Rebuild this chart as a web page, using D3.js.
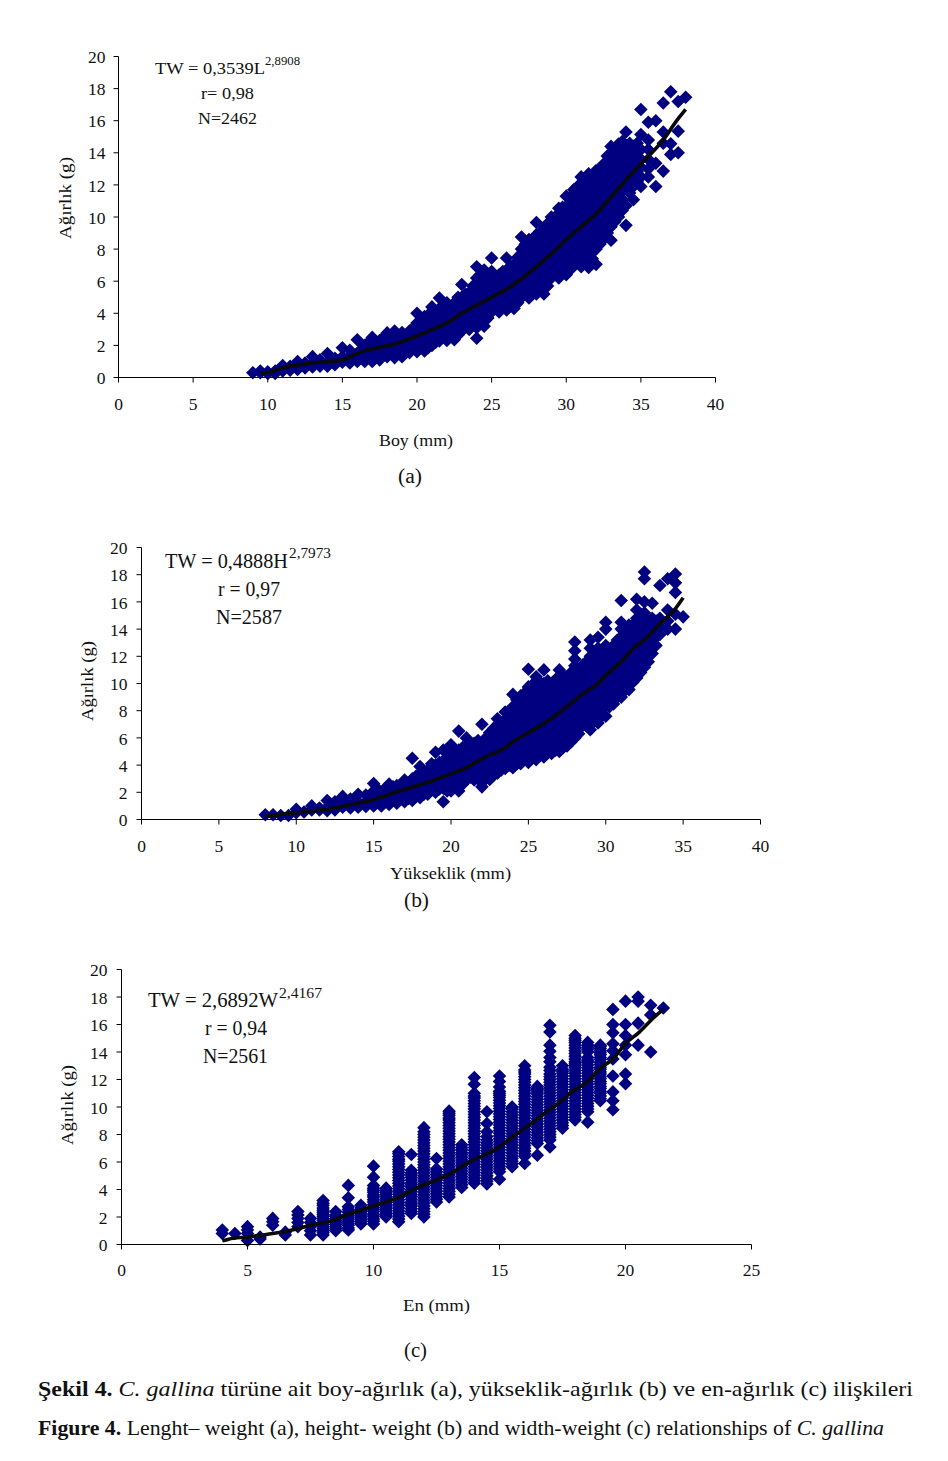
<!DOCTYPE html>
<html><head><meta charset="utf-8"><script src="https://cdn.jsdelivr.net/npm/d3@7"></script>
<style>html,body{margin:0;padding:0;background:#fff}svg{display:block}text{font-family:"Liberation Serif",serif;fill:#111}</style></head>
<body><svg id="c" width="948" height="1461"></svg>
<script>
// Panel (a) boy (length, mm) vs ağırlık (weight, g)
const boyX=[9,9.5,10,10.5,11,11.5,12,12.5,13,13.5,14,14.5,15,15.5,16,16.5,17,17.5,18,18.5,19,19.5,20,20.5,21,21.5,22,22.5,23,23.5,24,24.5,25,25.5,26,26.5,27,27.5,28,28.5,29,29.5,30,30.5,31,31.5,32,32.5,33,33.5,34,34.5,35,35.5,36,36.5,37,37.5,38];
const boyW=[[.3],[.3,.4],[.25,.35],[.25,.4],[.4,.75],[.45,.7],[.5,.75,1],[.6,.9],[.65,.9,1.3],[.7,1.1],[.7,1,1.5],[.8,1.2],[.95,1.3,1.85],[.9,1.3,1.7],[1,1.5,2.35],[1,1.5,2],[1,1.5,2,2.5],[1.1,1.6,2.3],[1.3,1.8,2.3,2.78],[1.24,1.8,2.4,2.9],[1.3,1.9,2.5,2.8],[1.55,2.1,2.6,2.9],[1.6,2.2,2.8,3.4,4],[1.65,2.2,2.8,3.3,3.8],[2,2.5,3,3.5,4,4.4],[2.28,2.8,3.3,3.8,4.3,4.95],[2.3,2.8,3.3,3.8,4.2,4.65],[2.35,2.9,3.4,3.9,4.3,4.65],[2.9,3.4,3.9,4.4,5,5.8],[3,3.5,4,4.5,5,5.3],[2.45,3.1,3.6,4.1,4.6,5.1,5.6,6.2,6.9],[3.2,3.7,4.2,4.7,5.2,5.7,6.2,6.7],[4.08,4.6,5.1,5.6,6.1,6.6,7.44],[4.08,4.6,5.1,5.6,6,6.4],[4.2,4.7,5.2,5.7,6.2,6.7,7.44],[4.3,4.8,5.3,5.8,6.3,6.7,7.05],[4.98,5.5,6,6.5,7,7.5,8,8.75],[4.95,5.5,6,6.5,7,7.5,8,8.6],[5.2,5.8,6.4,7,7.6,8.2,8.9,9.66],[5.2,5.8,6.4,7,7.6,8.2,8.8,9.3],[6.2,6.8,7.4,8,8.6,9.2,10],[6.2,6.8,7.4,8,8.6,9.2,9.9,10.55],[6.4,7,7.6,8.2,8.8,9.4,10,10.6,11.3],[6.95,7.5,8.1,8.7,9.3,9.9,10.5,11.1,11.7],[6.9,7.6,8.3,9,9.6,10.2,10.8,11.4,12,12.5],[6.85,7.7,8.4,9.1,9.8,10.4,11,11.6,12.2,12.7],[7.05,8,8.7,9.4,10,10.6,11.2,11.8,12.4,12.9],[8.6,9.3,10,10.6,11.2,11.8,12.4,13,13.3],[8.55,9.4,10.1,10.8,11.4,12,12.6,13.2,13.8,14.4],[10,10.8,11.4,12,12.6,13.2,13.8,14.55],[9.48,10.7,11.9,12.6,13.2,13.8,14.4,15.3],[11.07,11.9,12.5,13.1,13.7,14.4],[11.9,12.5,13.1,13.6,14.2,15.14,16.7],[12.5,13,13.6,14.2,14.8,15.9],[11.9,13.35,16],[12.86,14.6,15.3,17.1],[13.9,14.56,17.8],[14,15.35,17.2],[17.46]];
const boyFillX=[16.25,16.75,17.25,17.75,18.25,18.75,19.25,19.75,20.25,20.75,21.25,21.75,22.25,22.75,23.25,23.75,24.25,24.75,25.25,25.75,26.25,26.75,27.25,27.75,28.25,28.75,29.25,29.75,30.25,30.75,31.25,31.75,32.25,32.75,33.25,33.75,34.25,34.75];
const boyFillW=[[1.25,1.75],[1.25,1.75,2.2],[1.25,1.75,2.25],[1.45,2.05,2.5],[1.5,2.05,2.6],[1.55,2.1,2.6],[1.6,2.2,2.65],[1.85,2.35,2.8,3.1],[1.9,2.5,3.1,3.6],[1.85,2.35,2.9,3.5,3.9],[2.2,2.65,3.15,3.65,4.15],[2.55,3.05,3.55,4.05,4.5],[2.55,3.05,3.55,4,4.4],[2.65,3.15,3.65,4.15,4.6,5],[3.15,3.65,4.15,4.7,5.2],[3.3,3.75,4.25,4.75,5.25,5.7],[3.4,3.9,4.4,4.9,5.4,5.9,6.4],[3.7,4.2,4.7,5.2,5.7,6.2],[4.35,4.85,5.35,5.85,6.3],[4.35,4.85,5.35,5.85,6.3,6.6],[4.45,4.95,5.45,5.95,6.45,6.9],[4.65,5.15,5.65,6.15,6.65,7.1,7.5],[5.25,5.75,6.25,6.75,7.25,7.75,8.3],[5.2,5.75,6.25,6.75,7.25,7.75,8.3],[5.5,6.1,6.7,7.3,7.9,8.5,9],[5.7,6.1,6.7,7.3,7.9,8.5,9.1,9.6],[6.5,7.1,7.7,8.3,8.9,9.5,10],[6.5,7.1,7.7,8.3,8.9,9.5,10.1,10.6],[6.7,7.3,7.9,8.5,9.1,9.7,10.3,10.9,11.2],[7.2,7.8,8.4,9,9.6,10.2,10.8,11.4,11.9],[7.25,7.95,8.65,9.3,9.9,10.5,11.1,11.7,12.2],[7.4,8.05,8.75,9.45,10.1,10.7,11.3,11.9,12.5],[8.3,9,9.7,10.3,10.9,11.5,12.1,12.7,13],[9,9.65,10.3,10.9,11.5,12.1,12.7,13.3,13.8],[9.7,10.4,11.1,11.7,12.3,12.9,13.5,14.1],[10.4,11.1,11.65,12.3,12.9,13.5,14.1,14.7],[11.5,12.2,12.8,13.4,14,14.6],[12.2,12.8,13.4,14,14.6]];
const boyTrendX=[9.5,10,11,13,15,16,18.9,20.5,22.2,23,24,25,26,27,28,29,30,31,32,33.1,34,35,36.5,37.4,38];
const boyTrendW=[.25,.3,.6,.9,1.1,1.5,2.2,2.78,3.5,4,4.5,5,5.5,6.15,6.9,7.7,8.6,9.4,10.2,11.35,12.3,13.3,14.8,16,16.7];

// Panel (b) yükseklik (height, mm) vs ağırlık
const yukX=[8,8.5,9,9.5,10,10.5,11,11.5,12,12.5,13,13.5,14,14.5,15,15.5,16,16.5,17,17.5,18,18.5,19,19.5,20,20.5,21,21.5,22,22.5,23,23.5,24,24.5,25,25.5,26,26.5,27,27.5,28,28.5,29,29.5,30,30.5,31,31.5,32,32.5,33,33.5,34,34.5,35];
const yukW=[[.35],[.35],[.3],[.3],[.5,.75],[.55],[.7,1],[.7,.85],[.65,.9,1.4],[.7,1,1.3],[.9,1.3,1.7],[.85,1.2,1.5],[.9,1.3,1.85],[.95,1.3,1.8],[1,1.5,2.1,2.65],[1,1.5,2],[1.1,1.7,2.2,2.6],[1.2,1.7,2.2,2.5],[1.3,1.8,2.4,2.9],[1.4,1.9,2.5,3,4.5],[1.6,2.1,2.7,3.3,3.9],[1.85,2.3,2.8,3.2,3.6],[2,2.5,3,3.5,4,4.95],[1.3,2.3,2.8,3.3,3.8,4.3,5.1],[2.1,2.8,3.3,3.8,4.3,4.9,5.5],[2.1,2.8,3.4,4,4.6,5.1,6.5],[2.9,3.4,3.9,4.4,4.9,5.4,6],[2.9,3.4,3.9,4.4,4.9,5.6],[2.4,3.2,3.8,4.4,5,5.6,7],[2.95,3.5,4,4.6,5.2,5.8,6.4],[3.4,3.9,4.4,5,5.6,6.2,6.8,7.4],[3.75,4.3,4.9,5.5,6.1,6.7,7.3,7.9],[3.8,4.4,5,5.6,6.2,6.8,7.4,8.3,9.2],[4.1,4.7,5.3,5.9,6.5,7.1,7.7,8.3,9.1],[4.2,4.8,5.4,6,6.6,7.2,7.8,8.4,9,9.75,11.05],[4.4,5,5.6,6.2,6.8,7.4,8,8.6,9.2,9.8,10.5],[4.6,5.2,5.8,6.4,7,7.6,8.2,8.8,9.4,10,11],[4.85,5.4,6,6.6,7.2,7.8,8.4,9,9.5,10],[5,5.6,6.2,6.8,7.4,8,8.6,9.2,9.8,10.4,11],[5.4,6,6.6,7.2,7.8,8.4,9,9.6,10.1,10.5],[6,6.6,7.2,7.8,8.4,9,9.6,10.2,10.8,11.3,11.8,12.4,13.05],[6.9,7.4,8,8.6,9.2,9.8,10.4,10.9,11.35],[6.6,7.2,7.8,8.4,9,9.6,10.2,10.8,11.4,12,12.6,13.2],[7.1,7.8,8.4,9,9.6,10.2,10.8,11.4,12,12.6,13.4],[7.6,8.6,9.2,9.8,10.4,11,11.6,12.2,12.8,14,14.5],[8.5,9.3,9.9,10.5,11.1,11.7,12.3,12.8],[9,9.7,10.4,11,11.6,12.2,12.8,13.4,14,14.5,16.1],[9.55,10.3,11,11.6,12.2,12.8,13.4,13.9,14.3],[10.4,11.2,11.8,12.4,13,13.6,14.2,14.8,15.4,16.2],[11.2,11.9,12.5,13.1,13.7,14.3,15.2,16,17.7,18.2],[12.2,13,13.7,14.3,14.8,15.9],[13.6,14.2,14.8,17.2],[14,14.6,15.4,17.7],[14,15.1,16.7,17.4,18.05],[14.9]];
const yukFillX=[15.25,15.75,16.25,16.75,17.25,17.75,18.25,18.75,19.25,19.75,20.25,20.75,21.25,21.75,22.25,22.75,23.25,23.75,24.25,24.75,25.25,25.75,26.25,26.75,27.25,27.75,28.25,28.75,29.25,29.75,30.25,30.75,31.25,31.75,32.25,32.75,33.25];
const yukFillW=[[1.25,1.75,2.25],[1.3,1.8,2.3],[1.4,1.95,2.4],[1.5,2,2.5],[1.55,2.1,2.65],[1.7,2.25,2.8,3.2],[1.85,2.4,3,3.5],[2.2,2.7,3.2,3.7,4.1],[2.25,2.75,3.25,3.75,4.2],[2.1,2.55,3.05,3.55,4.05,4.6],[2.45,3.05,3.55,4.05,4.6,5.1],[2.6,3.1,3.65,4.2,4.75,5.3],[3.1,3.65,4.15,4.65,5.15,5.6],[3,3.6,4.15,4.7,5.25,5.8],[3,3.6,4.2,4.8,5.4,6],[3.25,3.75,4.3,4.9,5.5,6.1,6.7],[3.65,4.15,4.7,5.3,5.9,6.5,7.1],[4,4.6,5.2,5.8,6.4,7,7.6],[4.1,4.7,5.3,5.9,6.5,7.1,7.7,8.3,8.8],[4.45,5.05,5.65,6.25,6.85,7.45,8.05,8.65,9.3],[4.5,5.1,5.7,6.3,6.9,7.5,8.1,8.7,9.3,9.9],[4.7,5.3,5.9,6.5,7.1,7.7,8.3,8.9,9.5,10.1],[4.9,5.5,6.1,6.7,7.3,7.9,8.5,9.1,9.7,10.2],[5.1,5.7,6.3,6.9,7.5,8.1,8.7,9.3,9.8,10.3],[5.3,5.9,6.5,7.1,7.7,8.3,8.9,9.5,10.1,10.6],[5.7,6.3,6.9,7.5,8.1,8.7,9.3,9.9,10.4,10.8],[6.3,6.9,7.5,8.1,8.7,9.3,9.9,10.5,11],[6.9,7.5,8.1,8.7,9.3,9.9,10.5,11.1,11.6],[7.2,7.5,8.1,8.7,9.3,9.9,10.5,11.1,11.7,12.2],[7.6,8.1,8.7,9.3,9.9,10.5,11.1,11.7,12.3],[8.3,8.9,9.5,10.1,10.7,11.3,11.9,12.4],[9,9.6,10.2,10.8,11.4,12,12.6,13.2],[9.5,10.1,10.7,11.3,11.9,12.5,13.1,13.7],[10.1,10.7,11.3,11.9,12.5,13.1,13.7,14.3],[10.8,11.5,12.1,12.7,13.3,13.9,14.5,15],[11.6,12.2,12.8,13.4,14,14.6],[12.8,13.4,14,14.6]];
const yukTrendX=[8,10,12,14,15,16,18,20,21.2,22.3,23.4,24,25.1,26,27.5,28.4,29.5,30,31,31.9,32.6,33.5,34.5,35];
const yukTrendW=[.25,.5,.75,1.2,1.45,1.85,2.55,3.35,3.95,4.65,5.2,5.7,6.45,7.05,8.3,9.15,10,10.6,11.6,12.7,13.3,14.4,15.5,16.3];

// Panel (c) en (width, mm) vs ağırlık
const enX=[4,4.5,5,5.5,6,6.5,7,7.5,8,8.5,9,9.5,10,10.5,11,11.5,12,12.5,13,13.5,14,14.5,15,15.5,16,16.5,17,17.5,18,18.5,19,19.5,20,20.5,21,21.5];
const enW=[[.8,1.05],[.8],[.3,.8,1.05,1.3],[.4,.55],[1.4,1.65,1.9],[.7,.9],[1.3,1.6,1.9,2.15,2.4],[.7,1,1.3,1.6,1.9],[.7,1,1.3,1.6,1.9,2.2,2.5,2.85,3.2],[1,1.3,1.6,1.9,2.15,2.4],[1.05,1.4,1.7,2,2.35,2.75,3.4,4.3],[1.5,1.8,2.1,2.4,2.65,2.85],[1.5,1.85,2.2,2.55,2.9,3.25,3.6,3.95,4.3,4.9,5.7],[2,2.3,2.6,2.9,3.2,3.5,3.8,4.1],[1.65,2.05,2.45,2.85,3.25,3.65,4.05,4.45,4.85,5.25,5.65,6.05,6.4,6.75],[2.25,2.6,2.95,3.3,3.65,4,4.35,4.7,5.05,5.4,6.55],[2,2.4,2.8,3.2,3.6,4,4.4,4.8,5.2,5.6,6,6.4,6.8,7.2,7.6,8,8.5],[3.1,3.5,3.9,4.3,4.7,5.1,5.5,6.25],[3.45,3.85,4.25,4.65,5.05,5.45,5.85,6.25,6.65,7.05,7.45,7.85,8.25,8.65,9.05,9.4,9.7],[4.15,4.55,4.95,5.35,5.75,6.15,6.55,6.9,7.25],[4.45,4.85,5.25,5.65,6.05,6.45,6.85,7.25,7.65,8.05,8.45,8.85,9.25,9.65,10.05,10.45,10.8,11,11.65,12.15],[4.4,4.8,5.2,5.6,6,6.4,6.8,7.2,7.6,8.2,8.8,9.65],[4.75,5.3,5.7,6.1,6.5,6.9,7.3,7.7,8.1,8.5,8.9,9.3,9.7,10.1,10.5,10.85,11.15,11.45,11.85,12.25],[5.65,6.05,6.45,6.85,7.25,7.65,8.05,8.45,8.85,9.25,9.65,10],[5.9,6.4,6.8,7.2,7.6,8,8.4,8.8,9.2,9.6,10,10.4,10.8,11.2,11.6,12,12.4,12.7,13],[6.5,7.35,7.75,8.15,8.55,8.95,9.35,9.75,10.15,10.55,10.95,11.25,11.5],[7.1,7.6,8,8.4,8.8,9.2,9.6,10,10.4,10.8,11.2,11.6,12,12.4,12.9,13.3,13.6,14.05,14.5,15.45,15.95],[8.45,8.85,9.25,9.65,10.05,10.45,10.85,11.25,11.65,12.05,12.45,12.75,13],[9.05,9.45,9.85,10.25,10.65,11.05,11.45,11.85,12.25,12.65,13,13.3,13.7,14.1,14.5,14.85,15.2],[8.9,9.65,10.05,10.45,10.85,11.25,11.65,12.05,12.45,12.85,13.25,13.4,14,14.35,14.7],[10.45,10.8,11.15,11.5,11.85,12.2,12.55,12.9,13.25,13.6,13.95,14.25,14.5],[9.8,10.45,11.1,12.25,13.5,14.1,14.6,15.4,16,17.1],[11.7,12.4,13.8,14.5,15.2,16,17.7],[14.5,16.1,17.7,18],[14,16.7,17.4],[17.2]];
const enFillX=[8,8.5,9,9.5,10,10.5,11,11.5,12,12.5,13,13.5,14,14.5,15,15.5,16,16.5,17,17.5,18,18.5,19];
const enFillW=[[.85,1.15,1.45,1.75,2.05,2.35,2.65,3],[1.15,1.45,1.75,2.05],[1.2,1.55,1.85,2.15,2.55],[1.65,1.95,2.25,2.5],[1.7,2.05,2.4,2.7,3.1,3.45,3.8,4.1],[2.15,2.45,2.75,3.05,3.35,3.65,3.95],[1.85,2.25,2.65,3.05,3.45,3.85,4.25,4.65,5.05,5.45,5.85,6.2,6.6],[2.4,2.8,3.1,3.5,3.85,4.2,4.5,4.9,5.2],[2.2,2.6,3,3.4,3.8,4.2,4.6,5,5.4,5.8,6.2,6.6,7,7.4,7.8,8.2],[3.3,3.7,4.1,4.5,4.9,5.3],[3.65,4.05,4.45,4.85,5.25,5.65,6.05,6.45,6.85,7.25,7.65,8.05,8.45,8.85,9.2,9.55],[4.35,4.75,5.15,5.55,5.95,6.35,6.7,7.05],[4.65,5.05,5.45,5.85,6.25,6.65,7.05,7.45,7.85,8.25,8.65,9.05,9.45,9.85,10.25,10.65],[4.6,5,5.4,5.8,6.2,6.6,7,7.4,7.85],[5.5,5.9,6.3,6.7,7.1,7.5,7.9,8.3,8.7,9.1,9.5,9.9,10.3,10.7,11],[5.85,6.25,6.65,7.05,7.45,7.85,8.25,8.65,9.05,9.45,9.85],[6.6,7,7.4,7.8,8.2,8.6,9,9.4,9.8,10.2,10.6,11,11.4,11.8,12.2,12.55],[7.55,7.95,8.35,8.75,9.15,9.55,9.95,10.35,10.75,11.1,11.35],[7.8,8.2,8.6,9,9.4,9.8,10.2,10.6,11,11.4,11.8,12.2,12.65],[8.65,9.05,9.45,9.85,10.25,10.65,11.05,11.45,11.85,12.25,12.6],[9.25,9.65,10.05,10.45,10.85,11.25,11.65,12.05,12.45,12.85,13.15,13.5,13.9,14.3,14.7,15],[9.85,10.25,10.65,11.05,11.45,11.85,12.25,12.65,13.05,13.6,14.2,14.5],[10.6,11,11.35,11.7,12.05,12.4,12.75,13.1,13.45,13.8,14.1,14.4]];
const enTrendX=[4,4.25,5,6,7,7.5,8.3,9,10,11,11.65,12.5,13.25,13.7,14.5,15,15.65,16.3,16.85,17.5,17.85,18.4,19,19.5,20,20.55,21.15,21.5];
const enTrendW=[.27,.39,.55,.8,1.15,1.4,1.7,2.2,2.8,3.45,4.07,4.7,5.35,5.9,6.6,7.1,8,8.85,9.65,10.5,11.1,11.7,12.8,13.5,14.6,15.45,16.55,17.1];

const yTicks=[0,2,4,6,8,10,12,14,16,18,20];
const xTicksLong=[0,5,10,15,20,25,30,35,40];
const xTicksShort=[0,5,10,15,20,25];

const svg=d3.select("#c");
function txt(s,x,y,size,len,opt={}){
  const t=svg.append("text").attr("x",x).attr("y",y).attr("font-size",size).text(s);
  if(len){t.attr("textLength",len).attr("lengthAdjust","spacingAndGlyphs");}
  if(opt.rotate)t.attr("transform",`rotate(-90 ${x} ${y})`);
  return t;
}
function panel(p){
  const xS=d3.scaleLinear().domain(p.xDom).range([p.l,p.r]);
  const yS=d3.scaleLinear().domain([0,20]).range([p.b,p.t]);
  const g=svg.append("g");
  const flat=(xs,ys)=>xs.flatMap((x,i)=>ys[i].map(y=>[x,y]));
  const pts=flat(p.xs,p.ys).concat(flat(p.fx,p.fy));
  g.selectAll("path.m").data(pts).join("path").attr("class","m")
    .attr("d",d3.symbol(d3.symbolSquare,92))
    .attr("transform",d=>`translate(${xS(d[0])},${yS(d[1])}) rotate(45)`)
    .attr("fill","#000080");
  g.append("path").datum(p.tx.map((x,i)=>[x,p.tw[i]]))
    .attr("d",d3.line().x(d=>xS(d[0])).y(d=>yS(d[1])).curve(d3.curveMonotoneX))
    .attr("fill","none").attr("stroke","#0a0a0a").attr("stroke-width",3.6);
  const ax=g.append("g").attr("transform",`translate(0,${p.b})`)
    .call(d3.axisBottom(xS).tickValues(p.xTicks).tickSize(5).tickSizeOuter(0).tickPadding(p.xPad).offset(0));
  const ay=g.append("g").attr("transform",`translate(${p.l},0)`)
    .call(d3.axisLeft(yS).tickValues(yTicks).tickSize(5).tickSizeOuter(0).tickPadding(p.yPad).offset(0));
  [ax,ay].forEach(a=>{a.attr("font-family",null).attr("font-size",17.5);
    a.selectAll("path,line").attr("stroke","#000");a.selectAll("text").attr("fill","#111");});
  ay.selectAll("text").attr("dy","0.38em");
}
panel({xDom:[0,40],l:118.5,r:715.5,t:56.5,b:377.5,xs:boyX,ys:boyW,fx:boyFillX,fy:boyFillW,tx:boyTrendX,tw:boyTrendW,xTicks:xTicksLong,xPad:15,yPad:8});
panel({xDom:[0,40],l:141.5,r:760.5,t:547.5,b:819.5,xs:yukX,ys:yukW,fx:yukFillX,fy:yukFillW,tx:yukTrendX,tw:yukTrendW,xTicks:xTicksLong,xPad:15,yPad:9});
panel({xDom:[0,25],l:121.5,r:751.5,t:969.5,b:1244.5,xs:enX,ys:enW,fx:enFillX,fy:enFillW,tx:enTrendX,tw:enTrendW,xTicks:xTicksShort,xPad:14,yPad:9});

// annotations (a)
txt("TW = 0,3539L",155,74,17,110);txt("2,8908",265,65,11.5,35);
txt("r= 0,98",201,99,17,53);txt("N=2462",198,124,17,59);
txt("Ağırlık (g)",71,239,17,82,{rotate:true});
txt("Boy (mm)",379,446,17,74);txt("(a)",398,483,20,24);
// annotations (b)
txt("TW = 0,4888H",165,568,20,123);txt("2,7973",289,558,14,42);
txt("r = 0,97",218,596,20,62);txt("N=2587",216,624,20,66);
txt("Ağırlık (g)",93,721,17,80,{rotate:true});
txt("Yükseklik (mm)",390,879,17,121);txt("(b)",404,907,20,25);
// annotations (c)
txt("TW = 2,6892W",148,1007,20,130);txt("2,4167",279,998,14,43);
txt("r = 0,94",205,1035,20,62);txt("N=2561",203,1063,20,65);
txt("Ağırlık (g)",73,1145,17,80,{rotate:true});
txt("En (mm)",403,1311,17,67);txt("(c)",404,1357,20,23);

// caption
function caption(parts,x,y,len){
  const t=svg.append("text").attr("x",x).attr("y",y).attr("font-size",22).attr("textLength",len).attr("lengthAdjust","spacingAndGlyphs");
  parts.forEach(p=>t.append("tspan").text(p[0]).attr("font-weight",p[1]==="b"?"bold":null).attr("font-style",p[1]==="i"?"italic":null));
}
caption([["Şekil 4.","b"],[" ",""],["C. gallina","i"],[" türüne ait boy-ağırlık (a), yükseklik-ağırlık (b) ve en-ağırlık (c) ilişkileri",""]],38,1396,875);
caption([["Figure 4.","b"],[" Lenght– weight (a), height- weight (b) and width-weight (c) relationships of ",""],["C. gallina","i"]],38,1435,846);
</script></body></html>
